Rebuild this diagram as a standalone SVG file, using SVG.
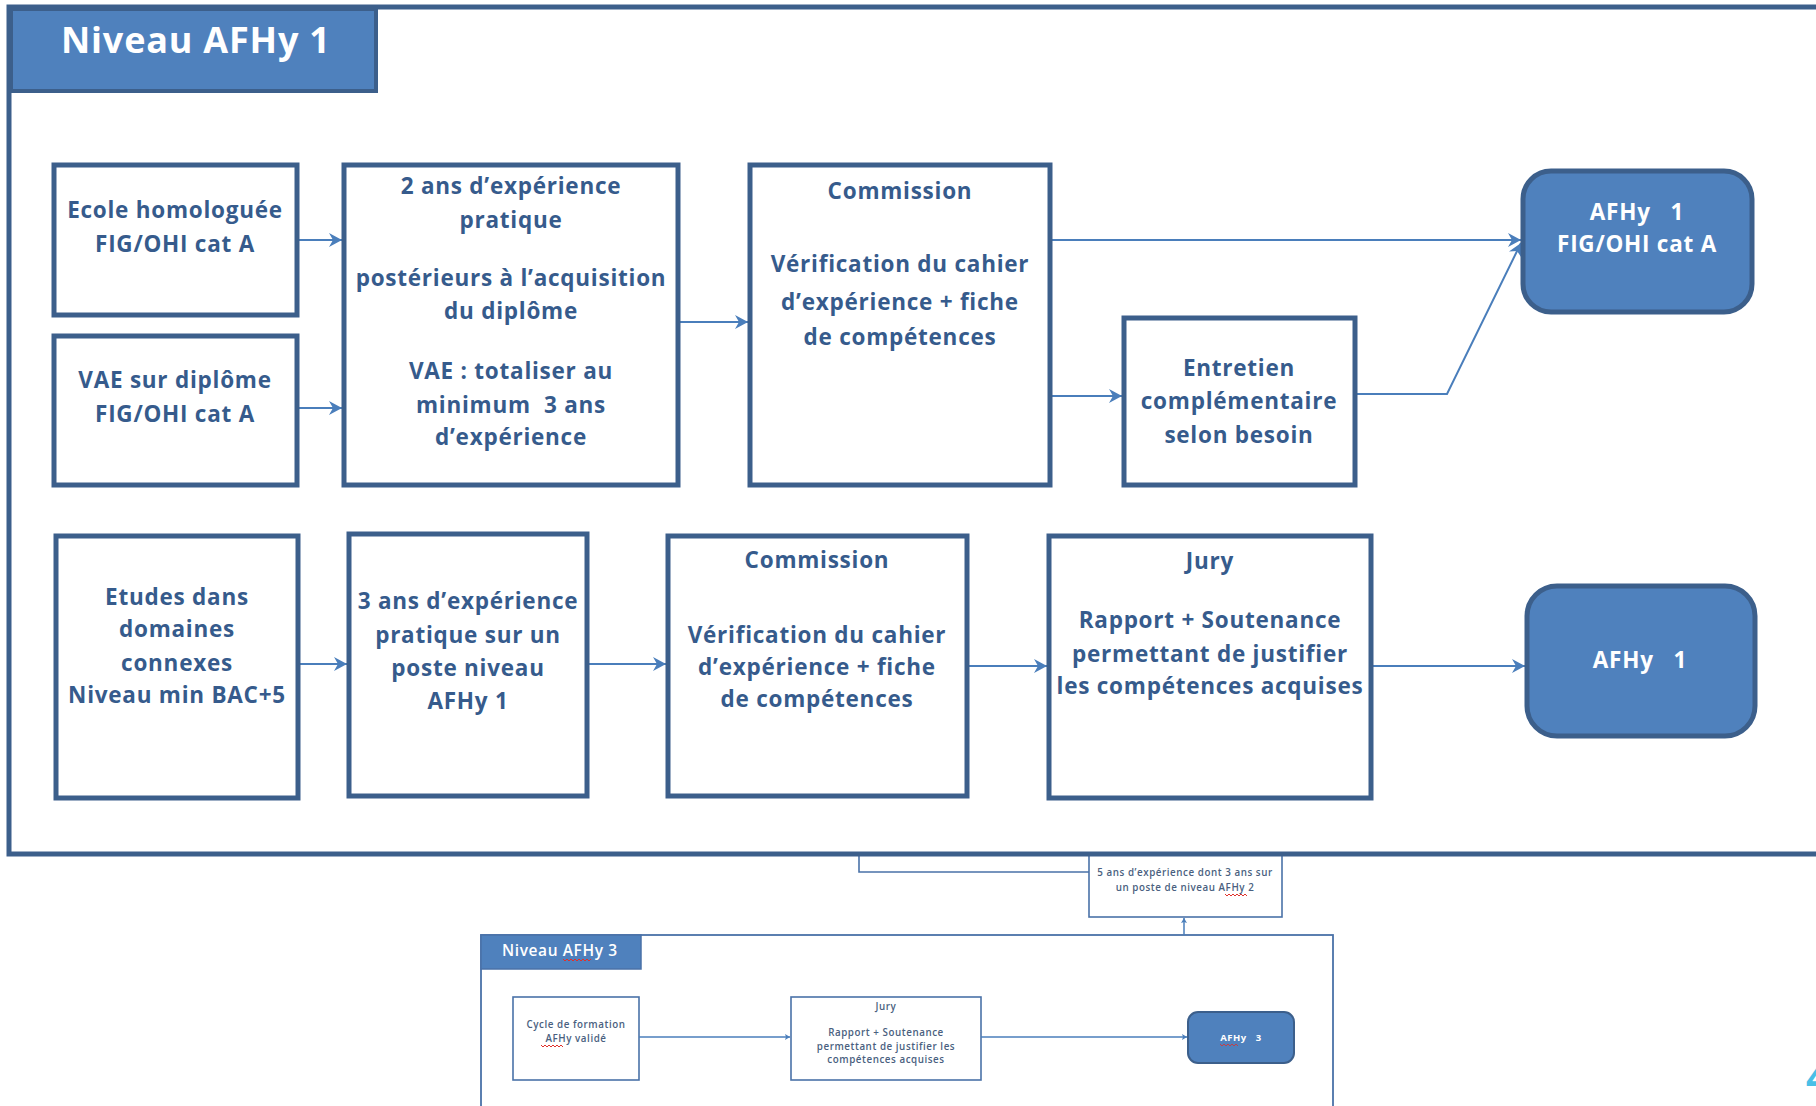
<svg xmlns="http://www.w3.org/2000/svg" width="1816" height="1106" viewBox="0 0 1816 1106">
<style>
.box{fill:#ffffff;stroke:#3c5f8b;stroke-width:5}
.rbox{fill:#4f81bd;stroke:#3c5f8b;stroke-width:5}
.t{font-family:"Open Sans","Liberation Sans",sans-serif;font-weight:700;font-size:22.5px;letter-spacing:0.75px;fill:#365b8c;text-anchor:middle}
.w{fill:#ffffff}
.conn{stroke:#4a7ebb;stroke-width:2;fill:none;marker-end:url(#arr)}
.sbox{fill:#ffffff;stroke:#4a72a8;stroke-width:1.6}
.st{font-family:"Open Sans","Liberation Sans",sans-serif;font-size:9.8px;font-weight:600;letter-spacing:0.55px;fill:#4a5f80;text-anchor:middle}
.sconn{stroke:#4a7ebb;stroke-width:1.5;fill:none;marker-end:url(#sarr)}
.sq{stroke:#e0302a;stroke-width:1;fill:none}
</style>
<defs>
<marker id="arr" markerUnits="userSpaceOnUse" viewBox="-14 -8 16 16" refX="0" refY="0" markerWidth="16" markerHeight="16" orient="auto">
<path d="M0,0 L-13,-7 L-9,0 L-13,7 Z" fill="#4a7ebb"/>
</marker>
<marker id="sarr" markerUnits="userSpaceOnUse" viewBox="-6 -4 7 8" refX="0" refY="0" markerWidth="7" markerHeight="8" orient="auto">
<path d="M0,0 L-5,-3 L-4,0 L-5,3 Z" fill="#4a7ebb"/>
</marker>
</defs>
<rect width="1816" height="1106" fill="#ffffff"/>

<!-- lower partial diagram (Niveau AFHy 3) -->
<g id="frame3">
<rect x="481" y="935" width="852" height="200" fill="#ffffff" stroke="#4a72a8" stroke-width="1.8"/>
</g>
<g id="title3">
<rect x="481" y="935" width="160" height="34" fill="#4f81bd" stroke="#4a72a8" stroke-width="1.5"/>
<text x="502" y="956" style="font-family:'Open Sans','Liberation Sans',sans-serif;font-size:15.5px;font-weight:600;letter-spacing:0.6px;fill:#ffffff">Niveau AFHy 3</text>
<path class="sq" d="M563,959 l2,2 l2,-2 l2,2 l2,-2 l2,2 l2,-2 l2,2 l2,-2 l2,2 l2,-2 l2,2 l2,-2 l2,2 l2,-2"/>
</g>
<g id="box5ans">
<rect class="sbox" x="1089" y="853" width="193" height="64"/>
<text class="st" x="1185" y="876">5 ans d’expérience dont 3 ans sur</text>
<text class="st" x="1185" y="891">un poste de niveau AFHy 2</text>
<path class="sq" d="M1225,894 l2,2 l2,-2 l2,2 l2,-2 l2,2 l2,-2 l2,2 l2,-2 l2,2 l2,-2 l2,2"/>
</g>
<g id="cycle">
<rect class="sbox" x="513" y="997" width="126" height="83"/>
<text class="st" x="576" y="1028">Cycle de formation</text>
<text class="st" x="576" y="1042">AFHy validé</text>
<path class="sq" d="M541,1045 l2,2 l2,-2 l2,2 l2,-2 l2,2 l2,-2 l2,2 l2,-2 l2,2 l2,-2 l2,2"/>
</g>
<g id="jury3">
<rect class="sbox" x="791" y="997" width="190" height="83"/>
<text class="st" x="886" y="1010">Jury</text>
<text class="st" x="886" y="1036">Rapport + Soutenance</text>
<text class="st" x="886" y="1050">permettant de justifier les</text>
<text class="st" x="886" y="1063">compétences acquises</text>
</g>
<g id="afhy3">
<rect x="1188" y="1012" width="106" height="51" rx="10" fill="#4f81bd" stroke="#3c5f8b" stroke-width="2"/>
<text class="st" x="1241" y="1041" style="fill:#ffffff;font-size:9.5px;font-weight:700" xml:space="preserve">AFHy   3</text>
<path d="M1220,1044 l2,2 l2,-2 l2,2 l2,-2 l2,2 l2,-2 l2,2 l2,-2 l2,2" stroke="#e0302a" stroke-width="0.8" fill="none"/>
</g>
<g id="connectors3">
<path d="M859,855 V872 H1089" stroke="#4a72a8" stroke-width="1.6" fill="none"/>
<line class="sconn" x1="1184" y1="935" x2="1184" y2="918"/>
<line class="sconn" x1="639" y1="1037" x2="790" y2="1037"/>
<line class="sconn" x1="981" y1="1037" x2="1187" y2="1037"/>
</g>

<!-- main frame -->
<g id="frame1">
<path d="M1816,7 H9 V854 H1816" fill="none" stroke="#3c5f8b" stroke-width="5"/>
</g>
<g id="title1">
<rect x="11" y="9" width="365" height="82" fill="#4f81bd" stroke="#3c5f8b" stroke-width="4"/>
<text x="61" y="53" style="font-family:'Open Sans','Liberation Sans',sans-serif;font-weight:700;font-size:36px;letter-spacing:0.8px;fill:#ffffff">Niveau AFHy 1</text>
</g>

<g id="connectors">
<line class="conn" x1="299" y1="240" x2="342" y2="240"/>
<line class="conn" x1="299" y1="408" x2="342" y2="408"/>
<line class="conn" x1="680" y1="322" x2="748" y2="322"/>
<line class="conn" x1="1052" y1="240" x2="1521" y2="240"/>
<line class="conn" x1="1052" y1="396" x2="1122" y2="396"/>
<polyline class="conn" points="1357,394 1447,394 1521,243"/>
<line class="conn" x1="300" y1="664" x2="347" y2="664"/>
<line class="conn" x1="589" y1="664" x2="666" y2="664"/>
<line class="conn" x1="969" y1="666" x2="1047" y2="666"/>
<line class="conn" x1="1373" y1="666" x2="1525" y2="666"/>
</g>

<g id="ecole">
<rect class="box" x="54" y="165" width="243" height="150"/>
<text class="t" x="175" y="218">Ecole homologuée</text>
<text class="t" x="175" y="252">FIG/OHI cat A</text>
</g>
<g id="vae">
<rect class="box" x="54" y="336" width="243" height="149"/>
<text class="t" x="175" y="388">VAE sur diplôme</text>
<text class="t" x="175" y="422">FIG/OHI cat A</text>
</g>
<g id="experience2">
<rect class="box" x="344" y="165" width="334" height="320"/>
<text class="t" x="511" y="194">2 ans d’expérience</text>
<text class="t" x="511" y="228">pratique</text>
<text class="t" x="511" y="286">postérieurs à l’acquisition</text>
<text class="t" x="511" y="319">du diplôme</text>
<text class="t" x="511" y="379">VAE : totaliser au</text>
<text class="t" x="511" y="413" xml:space="preserve">minimum  3 ans</text>
<text class="t" x="511" y="445">d’expérience</text>
</g>
<g id="commission1">
<rect class="box" x="750" y="165" width="300" height="320"/>
<text class="t" x="900" y="199">Commission</text>
<text class="t" x="900" y="272">Vérification du cahier</text>
<text class="t" x="900" y="310">d’expérience + fiche</text>
<text class="t" x="900" y="345">de compétences</text>
</g>
<g id="entretien">
<rect class="box" x="1124" y="318" width="231" height="167"/>
<text class="t" x="1239" y="376">Entretien</text>
<text class="t" x="1239" y="409">complémentaire</text>
<text class="t" x="1239" y="443">selon besoin</text>
</g>
<g id="afhy1fig">
<rect class="rbox" x="1523" y="171" width="229" height="141" rx="28"/>
<text class="t w" x="1637" y="220" xml:space="preserve">AFHy   1</text>
<text class="t w" x="1637" y="252">FIG/OHI cat A</text>
</g>

<g id="etudes">
<rect class="box" x="56" y="536" width="242" height="262"/>
<text class="t" x="177" y="605">Etudes dans</text>
<text class="t" x="177" y="637">domaines</text>
<text class="t" x="177" y="671">connexes</text>
<text class="t" x="177" y="703">Niveau min BAC+5</text>
</g>
<g id="experience3">
<rect class="box" x="349" y="534" width="238" height="262"/>
<text class="t" x="468" y="609">3 ans d’expérience</text>
<text class="t" x="468" y="643">pratique sur un</text>
<text class="t" x="468" y="676">poste niveau</text>
<text class="t" x="468" y="709">AFHy 1</text>
</g>
<g id="commission2">
<rect class="box" x="668" y="536" width="299" height="260"/>
<text class="t" x="817" y="568">Commission</text>
<text class="t" x="817" y="643">Vérification du cahier</text>
<text class="t" x="817" y="675">d’expérience + fiche</text>
<text class="t" x="817" y="707">de compétences</text>
</g>
<g id="jury">
<rect class="box" x="1049" y="536" width="322" height="262"/>
<text class="t" x="1210" y="569">Jury</text>
<text class="t" x="1210" y="628">Rapport + Soutenance</text>
<text class="t" x="1210" y="662">permettant de justifier</text>
<text class="t" x="1210" y="694">les compétences acquises</text>
</g>
<g id="afhy1">
<rect class="rbox" x="1527" y="586" width="228" height="150" rx="30"/>
<text class="t w" x="1640" y="668" xml:space="preserve">AFHy   1</text>
</g>

<text x="1806" y="1092" style="font-family:'Open Sans','Liberation Sans',sans-serif;font-weight:700;font-size:40px;fill:#4bbfe6">4</text>
</svg>
